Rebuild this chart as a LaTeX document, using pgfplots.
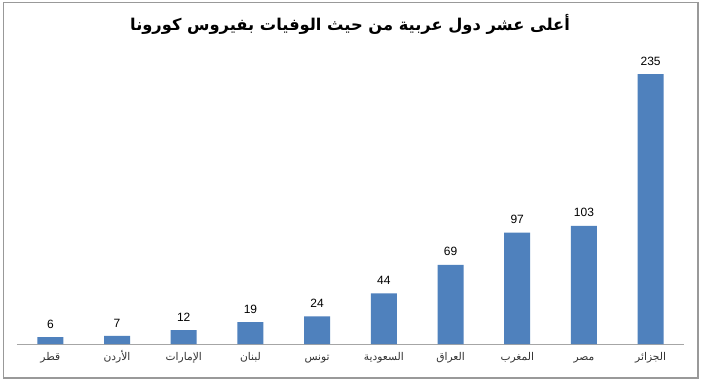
\documentclass[border=0pt]{standalone}
\usepackage{pgfplots}
\pgfplotsset{compat=1.18}
\usepackage{fontspec}
\setmainfont{Liberation Sans}
\newfontfamily\arabicfont[Script=Arabic]{DejaVu Sans}
\TeXXeTstate=1
\definecolor{barblue}{HTML}{4F81BD}
\begin{document}
\begin{tikzpicture}
\useasboundingbox (0,0) rectangle (525.75pt,285pt);
\fill[white] (0,0) rectangle (525.75pt,285pt);
\draw[gray!80, line width=0.8pt] (2.5pt,1.5pt) rectangle (523.5pt,283pt);
\node[font=\arabicfont\bfseries\fontsize{12.2}{14}\selectfont] at (262.5pt,266.5pt) {\beginR أعلى عشر دول عربية من حيث الوفيات بفيروس كورونا\endR};
\begin{axis}[
  at={(12.75pt,27pt)}, anchor=south west,
  scale only axis, width=500.25pt, height=215.25pt,
  ybar, bar width=19.5pt,
  xmin=-0.5, xmax=9.5, ymin=0, ymax=250,
  axis x line*=bottom, axis y line=none,
  x axis line style={gray!70, -},
  xtick=data, major tick length=0pt,
  xticklabels={{\beginR قطر\endR},{\beginR الأردن\endR},{\beginR الإمارات\endR},{\beginR لبنان\endR},{\beginR تونس\endR},{\beginR السعودية\endR},{\beginR العراق\endR},{\beginR المغرب\endR},{\beginR مصر\endR},{\beginR الجزائر\endR}},
  xticklabel style={font=\arabicfont\fontsize{8}{10}\selectfont, text=black!80, anchor=base, yshift=-12pt},
  nodes near coords,
  nodes near coords style={font=\fontsize{9}{11}\selectfont, text=black, yshift=3pt},
  /pgf/number format/assume math mode=true,
]
\addplot[fill=barblue, draw=none] coordinates {(0,6) (1,7) (2,12) (3,19) (4,24) (5,44) (6,69) (7,97) (8,103) (9,235)};
\end{axis}
\end{tikzpicture}
\end{document}
